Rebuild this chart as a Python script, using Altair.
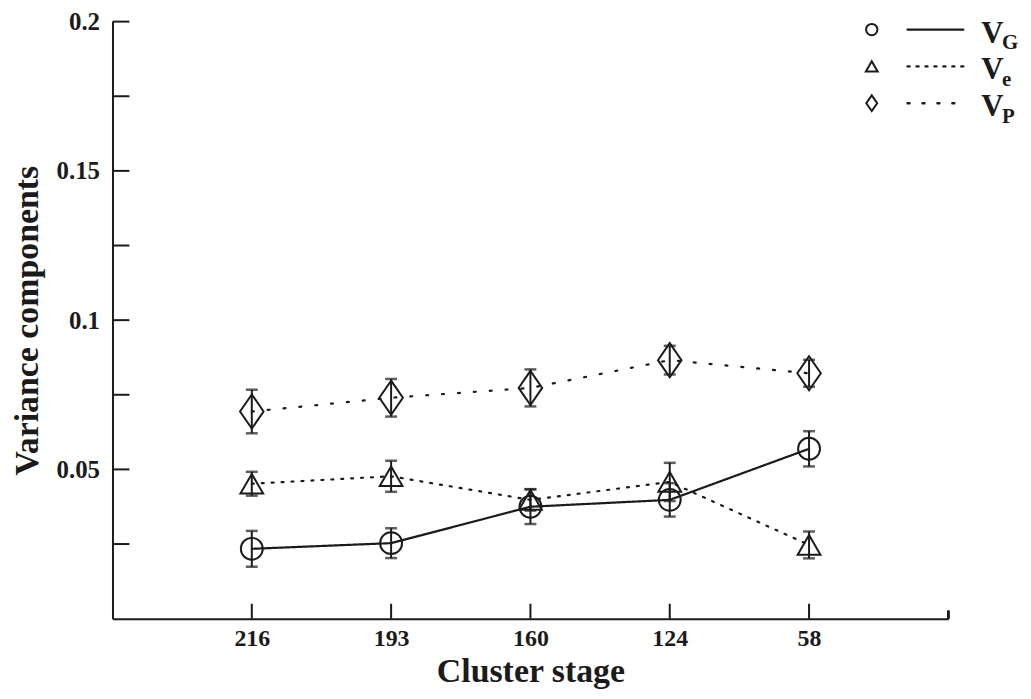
import altair as alt
import pandas as pd

# ---- data ----
stages = ["216", "193", "160", "124", "58"]
vg = [0.0234, 0.0253, 0.0375, 0.0398, 0.0569]
vg_err = [0.0060, 0.0050, 0.0058, 0.0056, 0.0059]
ve = [0.0452, 0.0477, 0.0398, 0.0458, 0.0247]
ve_err = [0.0040, 0.0052, 0.0036, 0.0064, 0.0045]
vp = [0.0694, 0.0740, 0.0773, 0.0866, 0.0822]
vp_err = [0.0073, 0.0063, 0.0062, 0.0048, 0.0045]
series_names = ["VG", "Ve", "VP"]
y_tick_values = [0.025, 0.05, 0.075, 0.1, 0.125, 0.15, 0.175, 0.2]
y_label_values = [0.05, 0.1, 0.15, 0.2]

rows = []
for name, vals, errs in [("VG", vg, vg_err), ("Ve", ve, ve_err), ("VP", vp, vp_err)]:
    for i, (s, v, e) in enumerate(zip(stages, vals, errs)):
        rows.append(dict(series=name, stage=s, idx=i, value=v, lo=v - e, hi=v + e))
df = pd.DataFrame(rows)

FONT = "Liberation Serif"
INK = "#1b1b1b"
W, H = 840, 600
DIAMOND = "M0,-1.45L1,0L0,1.45L-1,0Z"

x_axis = alt.Axis(title="Cluster stage", ticks=False, labelFont=FONT, labelFontSize=24,
                  labelFontWeight="bold", labelColor=INK, labelPadding=8, labelAngle=0,
                  titleFont=FONT, titleFontSize=34, titleFontWeight="bold", titleColor=INK,
                  titleBaseline="alphabetic", titleY=63,
                  domainColor=INK, domainWidth=2, grid=False)
y_axis = alt.Axis(title="Variance components", ticks=False, values=y_label_values, format="~g",
                  labelFont=FONT, labelFontSize=25, labelFontWeight="bold", labelColor=INK,
                  labelPadding=13, titleFont=FONT, titleFontSize=34, titleFontWeight="bold",
                  titleColor=INK, titlePadding=12, domainColor=INK, domainWidth=2, grid=False)
x_scale = alt.Scale(type="point", padding=1, domain=stages)
y_scale = alt.Scale(domain=[0, 0.2], nice=False, zero=True)

def X():
    return alt.X("stage:N", sort=stages, scale=x_scale, axis=x_axis)

def Y(field):
    return alt.Y(f"{field}:Q", scale=y_scale, axis=y_axis)

base = alt.Chart(df)

lines = base.mark_line(color=INK, strokeWidth=2.2, strokeCap="round").encode(
    x=X(), y=Y("value"),
    detail="series:N",
    order=alt.Order("idx:Q"),
    strokeDash=alt.StrokeDash("series:N", scale=alt.Scale(domain=series_names,
                              range=[[1, 0], [2, 8], [2, 14]]), legend=None),
)

points = base.mark_point(filled=False, strokeWidth=2, color=INK, opacity=1).encode(
    x=X(), y=Y("value"),
    shape=alt.Shape("series:N", scale=alt.Scale(domain=series_names,
                    range=["circle", "triangle-up", DIAMOND]), legend=None),
    size=alt.Size("series:N", scale=alt.Scale(domain=series_names, range=[484, 560, 500]),
                  legend=None),
)

err = base.mark_rule(color=INK, strokeWidth=2).encode(x=X(), y=Y("lo"), y2="hi:Q")
cap_lo = base.mark_tick(color=INK, size=12, thickness=2.5, orient="horizontal").encode(
    x=X(), y=Y("lo"))
cap_hi = base.mark_tick(color=INK, size=12, thickness=2.5, orient="horizontal").encode(
    x=X(), y=Y("hi"))

# inward axis ticks
ytick_df = pd.DataFrame({"value": y_tick_values})
yticks = alt.Chart(ytick_df).mark_rule(color=INK, strokeWidth=2).encode(
    y=Y("value"), x=alt.value(0), x2=alt.value(17))
xtick_df = pd.DataFrame({"stage": stages})
xticks = alt.Chart(xtick_df).mark_rule(color=INK, strokeWidth=2).encode(
    x=X(), y=alt.value(H), y2=alt.value(H - 15))
end_tick = alt.Chart(xtick_df).mark_rule(color=INK, strokeWidth=2).encode(
    x=alt.value(W), y=alt.value(H), y2=alt.value(H - 8))

# custom legend
leg = []
leg_rows = [("circle", 130, [1, 0], "G", 8), ("triangle-up", 140, [2, 7], "e", 45),
            (DIAMOND, 120, [2, 13], "P", 82)]
one = pd.DataFrame({"k": [0]})
for shape, size, dash, sub, yy in leg_rows:
    leg.append(alt.Chart(one).mark_point(shape=shape, size=size, filled=False, strokeWidth=2,
                                         color=INK, opacity=1).encode(
        x=alt.value(763), y=alt.value(yy)))
    leg.append(alt.Chart(one).mark_rule(color=INK, strokeWidth=2.4, strokeDash=dash,
                                        strokeCap="round").encode(
        x=alt.value(799), x2=alt.value(855), y=alt.value(yy)))
    leg.append(alt.Chart(one).mark_text(text="V", font=FONT, fontSize=31, fontWeight="bold",
                                        color=INK, align="left", baseline="alphabetic").encode(
        x=alt.value(873), y=alt.value(yy + 13)))
    leg.append(alt.Chart(one).mark_text(text=sub, font=FONT, fontSize=21, fontWeight="bold",
                                        color=INK, align="left", baseline="alphabetic").encode(
        x=alt.value(894), y=alt.value(yy + 20)))

chart = alt.layer(lines, points, err, cap_lo, cap_hi, yticks, xticks, end_tick, *leg).properties(
    width=W, height=H,
    autosize=alt.AutoSizeParams(type="none"),
    padding={"left": 105, "top": 12, "right": 75, "bottom": 71},
    background="white",
).configure_view(stroke=None)

chart.save("out.html", embed_options={"renderer": "svg", "actions": False})
